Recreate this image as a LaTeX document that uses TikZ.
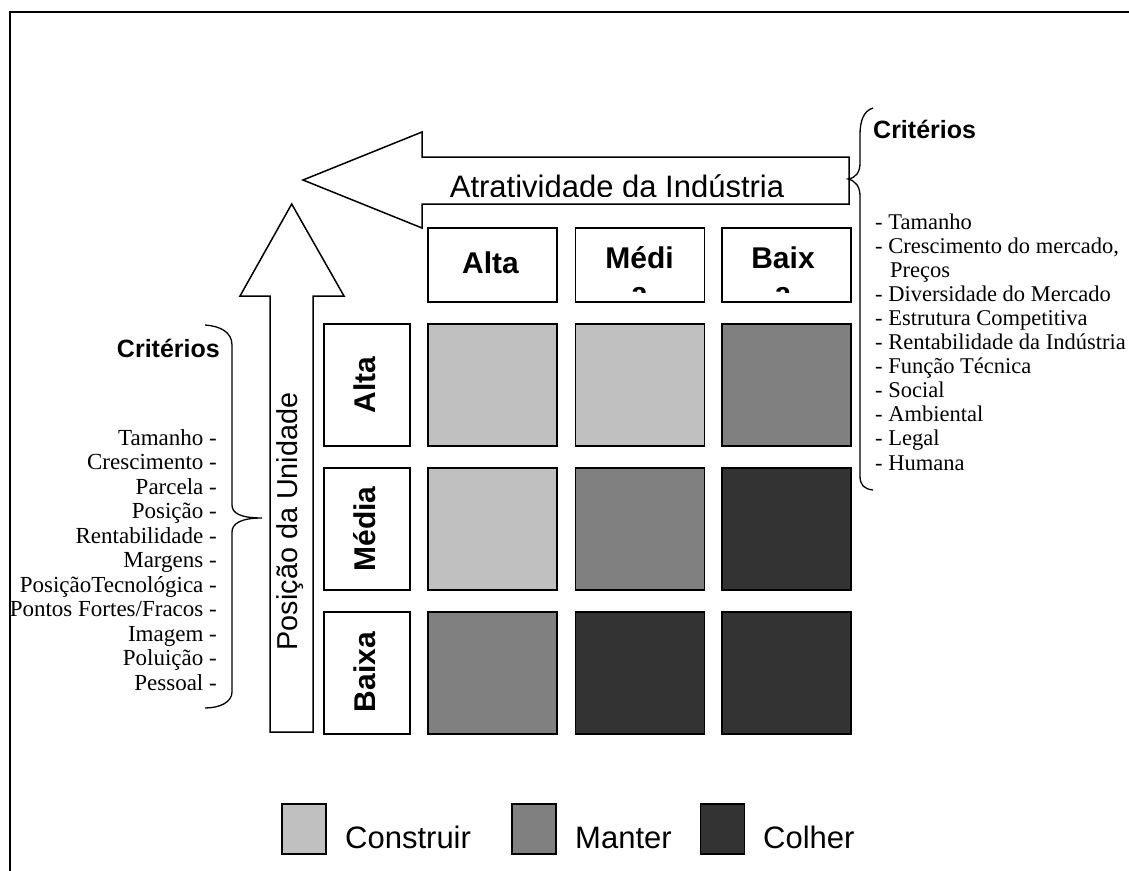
\documentclass[tikz,border=0pt]{standalone}
\usepackage{fontspec}
\setmainfont{Liberation Serif}
\newfontfamily\arialfont{Liberation Sans}
\definecolor{buildgray}{HTML}{C0C0C0}
\definecolor{keepgray}{HTML}{808080}
\definecolor{harvestgray}{HTML}{333333}
\begin{document}
\begin{tikzpicture}[x=1pt,y=-1pt,line join=miter]
\tikzset{
  outline/.style={draw=black,line width=1.5pt},
  cell/.style={outline,minimum width=129pt,minimum height=122pt,inner sep=0pt},
  hdrbox/.style={outline,fill=white,minimum width=129pt,minimum height=74pt,inner sep=0pt},
  rowbox/.style={outline,fill=white,minimum width=86pt,minimum height=122pt,inner sep=0pt},
  keybox/.style={outline,minimum width=44pt,minimum height=50pt,inner sep=0pt},
  boldlab/.style={font=\arialfont\bfseries\fontsize{30}{34.5}\selectfont,inner sep=0pt},
  biglab/.style={font=\arialfont\fontsize{31}{35.6}\selectfont,inner sep=0pt},
  sidelab/.style={font=\arialfont\fontsize{28.8}{33}\selectfont,inner sep=0pt},
  critlab/.style={font=\arialfont\bfseries\fontsize{25}{29}\selectfont,inner sep=0pt},
  listR/.style={font=\fontsize{22.5}{25}\selectfont,inner sep=0pt},
  listL/.style={font=\fontsize{23}{25}\selectfont,inner sep=0pt},
  bracepath/.style={draw=black,line width=1.3pt},
}
\useasboundingbox (0,0) rectangle (1129,870);

% outer frame
\draw[line width=1.5pt] (10,880) -- (10,12) -- (1140,12);

% horizontal arrow: industry attractiveness
\draw[outline,fill=white] (849,157) -- (422,157) -- (422,132) -- (303,180)
  -- (422,228) -- (422,204) -- (849,204) -- cycle;
\begin{scope}
  \clip (422,150) rectangle (849,196);
  \node[biglab,anchor=base] (attr) at (617,197) {Atratividade da Indústria};
\end{scope}

% vertical arrow: business position
\draw[outline,fill=white] (270,732) -- (270,296) -- (240,296) -- (291.7,204)
  -- (344,296) -- (313,296) -- (313,732) -- cycle;
\node[sidelab,rotate=90,anchor=base] (pos) at (297,521.5) {Posição da Unidade};

% column headers
\node[hdrbox] (hA) at (492.5,265) {};
\node[hdrbox] (hM) at (640,265) {};
\node[hdrbox] (hB) at (786.5,265) {};
\node[boldlab,anchor=base] (hAt) at (490.5,273) {Alta};
\node[boldlab,anchor=base] (hMt) at (639.5,268) {Médi};
\node[boldlab,anchor=base] (hBt) at (783,268) {Baix};
\begin{scope}
  \clip (560,228) rectangle (860,292);
  \node[boldlab,anchor=base] (hMa) at (639.5,303.6) {a};
  \node[boldlab,anchor=base] (hBa) at (783,303.6) {a};
\end{scope}

% row headers
\node[rowbox] (rA) at (367,385) {};
\node[rowbox] (rM) at (367,529) {};
\node[rowbox] (rB) at (367,673) {};
\node[boldlab,rotate=90,anchor=base] (rAt) at (375,385) {Alta};
\node[boldlab,rotate=90,anchor=base] (rMt) at (375,529) {Média};
\node[boldlab,rotate=90,anchor=base] (rBt) at (375,672) {Baixa};

% matrix cells
\node[cell,fill=buildgray]   (c11) at (492.5,385) {};
\node[cell,fill=buildgray]   (c12) at (640,385) {};
\node[cell,fill=keepgray]    (c13) at (786.5,385) {};
\node[cell,fill=buildgray]   (c21) at (492.5,529) {};
\node[cell,fill=keepgray]    (c22) at (640,529) {};
\node[cell,fill=harvestgray] (c23) at (786.5,529) {};
\node[cell,fill=keepgray]    (c31) at (492.5,673) {};
\node[cell,fill=harvestgray] (c32) at (640,673) {};
\node[cell,fill=harvestgray] (c33) at (786.5,673) {};

% right criteria brace and list
\draw[bracepath] (873,108) .. controls (863,111) and (860,122) .. (860,135)
  -- (860,163) .. controls (860,172) and (856,178) .. (848,179)
  .. controls (856,181) and (860,187) .. (860,196)
  -- (860,476) .. controls (860,485) and (864,489) .. (873,490);
\node[critlab,anchor=base west] (critR) at (873,138) {Critérios};
\foreach \t [count=\i] in {- Tamanho,{- Crescimento do mercado,},{},- Diversidade do Mercado,
  - Estrutura Competitiva,- Rentabilidade da Indústria,- Função Técnica,- Social,
  - Ambiental,- Legal,- Humana}
  \node[listR,anchor=base west] (r\i) at (875,229+24.1*\i-24.1) {\t};
\node[listR,anchor=base west] (rP) at (890,277.2) {Preços};

% left criteria brace and list
\draw[bracepath] (205,325) .. controls (220,326) and (232,332) .. (232,345)
  -- (232,505) .. controls (232,513) and (240,518) .. (262,518)
  .. controls (240,518) and (232,524) .. (232,532)
  -- (232,692) .. controls (232,702) and (220,708) .. (205,708);
\node[critlab,anchor=base east] (critL) at (220,357) {Critérios};
\foreach \t [count=\i] in {Tamanho -,Crescimento -,Parcela -,Posição -,Rentabilidade -,
  Margens -,PosiçãoTecnológica -,Pontos Fortes/Fracos -,Imagem -,Poluição -,Pessoal -}
  \node[listL,anchor=base east] (l\i) at (217,445+24.5*\i-24.5) {\t};

% legend
\node[keybox,fill=buildgray]   (k1) at (304,829) {};
\node[keybox,fill=keepgray]    (k2) at (534,829) {};
\node[keybox,fill=harvestgray] (k3) at (722.5,829) {};
\begin{scope}
  \clip (330,800) rectangle (900,851);
  \node[biglab,anchor=base west] (k1t) at (345,848) {Construir};
  \node[biglab,anchor=base west] (k2t) at (575,848) {Manter};
  \node[biglab,anchor=base west] (k3t) at (763,848) {Colher};
\end{scope}
\end{tikzpicture}
\end{document}
